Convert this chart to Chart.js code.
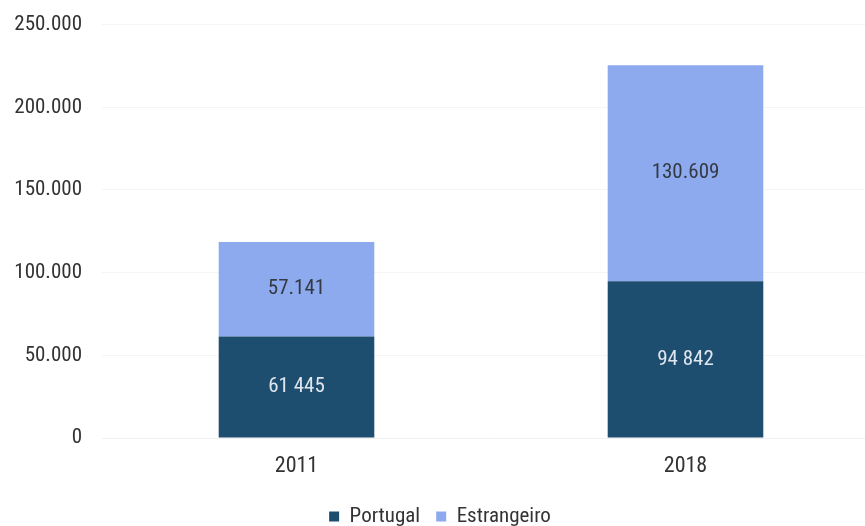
<!DOCTYPE html>
<html>
<head>
<meta charset="utf-8">
<script src="https://cdn.jsdelivr.net/npm/chart.js@4/dist/chart.umd.min.js"></script>
<style>
  html, body { margin: 0; padding: 0; background: #fff; overflow: hidden; }
  #wrap { position: relative; top: -8px; width: 880px; height: 545px; }
</style>
</head>
<body>
<div id="wrap"><canvas id="c"></canvas></div>
<script>
const categories = ['2011', '2018'];
const portugal = [61445, 94842];
const estrangeiro = [57141, 130609];
const yTicks = [0, 50000, 100000, 150000, 200000, 250000];

const FONT = "'Liberation Sans Narrow', 'Arial Narrow', 'Roboto Condensed', 'DejaVu Sans Condensed', sans-serif";
const fmt = v => v.toLocaleString('de-DE');

// writes each segment's value in the middle of its bar
const valueLabels = {
  id: 'valueLabels',
  afterDatasetsDraw(chart) {
    const ctx = chart.ctx;
    ctx.save();
    ctx.font = '21px ' + FONT;
    ctx.textAlign = 'center';
    ctx.textBaseline = 'middle';
    chart.data.datasets.forEach((ds, i) => {
      const meta = chart.getDatasetMeta(i);
      meta.data.forEach((bar, j) => {
        const p = bar.getProps(['x', 'y', 'base'], true);
        ctx.fillStyle = ds.labelColor;
        let txt = fmt(ds.data[j]);
        if (i === 0) txt = txt.replace('.', ' ');
        ctx.fillText(txt, p.x, (p.y + p.base) / 2);
      });
    });
    ctx.restore();
  }
};

new Chart(document.getElementById('c'), {
  type: 'bar',
  data: {
    labels: categories,
    datasets: [
      { label: 'Portugal', data: portugal, backgroundColor: '#1e4e6f', labelColor: '#dfe6ee' },
      { label: 'Estrangeiro', data: estrangeiro, backgroundColor: '#8eaaee', labelColor: '#343a44' }
    ]
  },
  options: {
    responsive: true,
    maintainAspectRatio: false,
    animation: false,
    layout: { padding: { top: 11, right: 0, bottom: 0, left: 0 } },
    datasets: { bar: { categoryPercentage: 1.0, barPercentage: 0.4 } },
    plugins: {
      tooltip: { enabled: false },
      legend: {
        position: 'bottom',
        labels: {
          font: { family: FONT, size: 21 },
          color: '#333',
          boxWidth: 10,
          boxHeight: 10,
          padding: 16
        }
      }
    },
    scales: {
      x: {
        stacked: true,
        grid: { display: false },
        border: { display: true, color: '#f0f0f0' },
        ticks: { font: { family: FONT, size: 22 }, color: '#333', padding: 7 },
        afterFit(s) { s.height = 52; }
      },
      y: {
        stacked: true,
        min: 0,
        max: 250000,
        afterBuildTicks(s) { s.ticks = yTicks.map(v => ({ value: v })); },
        grid: { color: 'rgba(0,0,0,0.045)', drawTicks: false },
        border: { display: false },
        ticks: {
          font: { family: FONT, size: 21 },
          color: '#333',
          padding: 20,
          callback: v => fmt(v)
        },
        afterFit(s) { s.width = 102; }
      }
    }
  },
  plugins: [valueLabels]
});
</script>
</body>
</html>
